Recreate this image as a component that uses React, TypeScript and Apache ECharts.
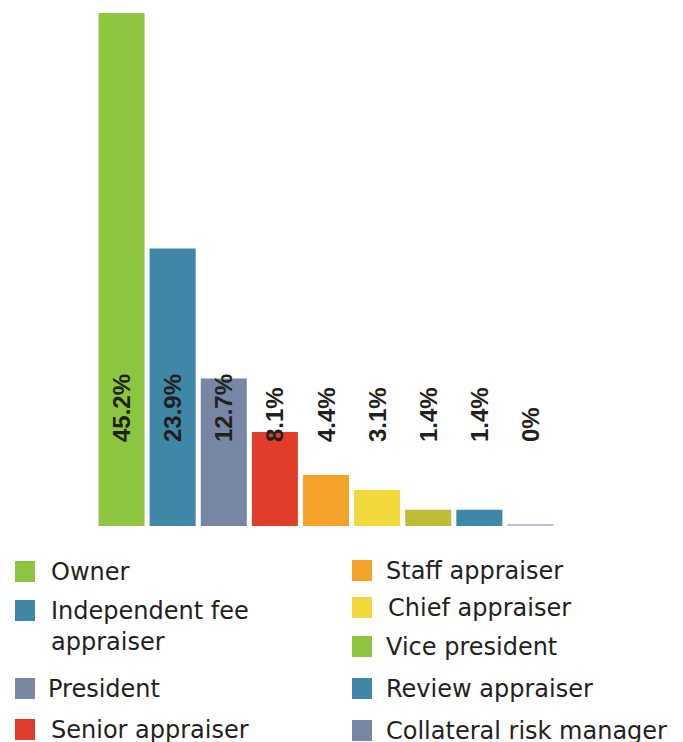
import React, { useEffect, useRef } from "react";
import * as echarts from "echarts";

const categories = [
  "Owner",
  "Independent fee appraiser",
  "President",
  "Senior appraiser",
  "Staff appraiser",
  "Chief appraiser",
  "Vice president",
  "Review appraiser",
  "Collateral risk manager",
];
const legendLabels = [
  "Owner",
  "\nIndependent fee\nappraiser",
  "President",
  "Senior appraiser",
  "Staff appraiser",
  "Chief appraiser",
  "Vice president",
  "Review appraiser",
  "Collateral risk manager",
];
const values = [45.2, 23.9, 12.7, 8.1, 4.4, 3.1, 1.4, 1.4, 0];
const barColors = ["#8cc63f", "#3f87a6", "#7886a5", "#e03e2b", "#f4a22a", "#f0d83d", "#bdbc37", "#3f87a6", "#b5c0d4"];
const legendColors = ["#8cc63f", "#3f87a6", "#7886a5", "#e03e2b", "#f4a22a", "#f0d83d", "#8cc63f", "#3f87a6", "#7886a5"];

// legend layout (icon left, icon top, text gap)
const legendLeft = [15, 15, 15, 15, 352, 352, 352, 352, 352];
const legendIconTop = [561, 600, 678, 719, 560, 597, 636, 678, 720];
const legendTextPad = [11, 11, 8, 11, 9, 11, 9, 9, 9];

export default function App() {
  const ref = useRef<HTMLDivElement>(null);
  useEffect(() => {
    document.body.style.margin = "0";
    if (!ref.current) return;
    const chart = echarts.init(ref.current, undefined, { renderer: "svg" });
    const series = categories.map((name, i) => ({
      name,
      type: "bar",
      stack: "total",
      barWidth: 46,
      barMinHeight: values[i] === 0 ? 2 : 0,
      itemStyle: { color: barColors[i] },
      data: values.map((v, j) => (j === i ? v : null)),
      label: {
        show: true,
        position: "insideBottom",
        distance: 84,
        rotate: 90,
        align: "left",
        verticalAlign: "middle",
        formatter: "{c}%",
        fontFamily: "'Liberation Sans Narrow', 'Liberation Sans', sans-serif",
        fontWeight: "bold",
        fontSize: 24,
        color: "#231f20",
      },
    }));
    const legends = categories.map((name, i) => {
      const multi = legendLabels[i].includes("\n");
      return {
        data: [{ name, itemStyle: { color: legendColors[i] } }],
        formatter: legendLabels[i],
        left: legendLeft[i],
        top: legendIconTop[i] - (multi ? 36 : 5),
        padding: 0,
        icon: "rect",
        itemWidth: 20,
        itemHeight: 21,
        textStyle: {
          fontFamily: "'DejaVu Sans', sans-serif",
          fontSize: 24,
          color: "#231f20",
          lineHeight: 31,
          padding: [0, 0, 0, legendTextPad[i]],
        },
      };
    });
    chart.setOption({
      animation: false,
      grid: { left: 96, width: 460, top: 13, bottom: 216 },
      xAxis: { type: "category", data: categories, show: false },
      yAxis: { type: "value", min: 0, max: 44.2, show: false },
      legend: legends,
      series,
    });
    return () => chart.dispose();
  }, []);
  return <div ref={ref} style={{ width: 683, height: 742 }} />;
}
